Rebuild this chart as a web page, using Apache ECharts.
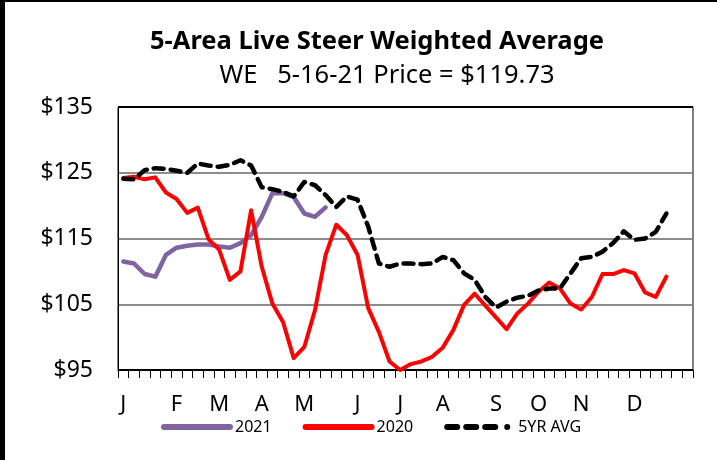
<!DOCTYPE html>
<html>
<head>
<meta charset="utf-8">
<script src="https://cdn.jsdelivr.net/npm/echarts@6/dist/echarts.min.js"></script>
<style>
html,body{margin:0;padding:0;background:#fff;}
#c{width:717px;height:460px;}
</style>
</head>
<body>
<div id="c"></div>
<script>
// Week categories (54 weekly slots), month tick labels placed at these week indices
const monthLabels = ['J','F','M','A','M','J','J','A','S','O','N','D'];
const monthWeekIndex = [0,5,9,13,17,22,26,30,35,39,43,48];
const weekCount = 54;

const yTicks = [95,105,115,125,135];

const s2021 = [111.5,111.2,109.6,109.2,112.5,113.6,113.9,114.1,114.1,113.8,
               113.6,114.3,115.5,118.3,121.9,121.9,121.3,118.8,118.3,119.73];

const s2020 = [124.2,124.4,124.0,124.3,122.0,121.0,118.9,119.7,114.9,113.3,
               108.7,110.0,119.3,110.7,105.1,102.3,96.8,98.5,104.1,112.5,
               117.1,115.5,112.5,104.4,100.8,96.3,95.0,95.9,96.3,97.0,
               98.4,101.1,104.9,106.6,104.8,103.0,101.2,103.6,105.1,106.9,
               108.3,107.4,105.1,104.2,106.1,109.6,109.6,110.2,109.7,106.8,
               106.1,109.2];

const s5yr = [124.1,124.0,125.4,125.7,125.6,125.3,125.0,126.4,126.1,125.9,
              126.2,126.9,126.1,122.8,122.5,122.1,121.4,123.6,123.1,121.6,
              119.8,121.4,120.9,116.8,111.2,110.7,111.2,111.2,111.1,111.2,
              112.2,111.7,109.7,108.7,106.1,104.5,105.4,106.0,106.3,107.1,
              107.4,107.4,109.7,112.0,112.2,113.0,114.3,116.1,114.8,115.0,
              116.0,118.8];

const categories = [];
for (let i = 0; i < weekCount; i++) {
  const k = monthWeekIndex.indexOf(i);
  categories.push(k >= 0 ? monthLabels[k] : '');
}

const FONT = 'Noto Sans';
const solidIcon = 'path://M3,0h66a3,3 0 0 1 0,6h-66a3,3 0 0 1 0,-6z';
const dashIcon = 'path://M3,0h10a3,3 0 0 1 0,6h-10a3,3 0 0 1 0,-6z M22,0h10a3,3 0 0 1 0,6h-10a3,3 0 0 1 0,-6z M41,0h10a3,3 0 0 1 0,6h-10a3,3 0 0 1 0,-6z M63,0a3,3 0 0 1 0,6a3,3 0 0 1 0,-6z M72,0v6z';

const chart = echarts.init(document.getElementById('c'), null, {renderer:'canvas'});
chart.setOption({
  animation: false,
  backgroundColor: '#fff',
  textStyle: {fontFamily: FONT, color: '#000'},
  graphic: [
    {type:'rect', shape:{x:0,y:0,width:5,height:460}, style:{fill:'#000'}, silent:true},
    {type:'rect', shape:{x:0,y:0,width:717,height:2}, style:{fill:'#000'}, silent:true},
    {type:'text', x:377, y:42, silent:true,
     style:{text:'5-Area Live Steer Weighted Average', fontFamily:FONT, fontSize:25.5, fontWeight:'bold',
            fill:'#000', align:'center', verticalAlign:'middle'}},
    {type:'text', x:387, y:76, silent:true,
     style:{text:'WE   5-16-21 Price = $119.73', fontFamily:FONT, fontSize:25.5,
            fill:'#000', align:'center', verticalAlign:'middle'}}
  ],
  legend: {
    left: 156,
    top: 414,
    itemWidth: 72,
    itemHeight: 6,
    itemGap: 31,
    symbolKeepAspect: false,
    textStyle: {fontFamily: FONT, fontSize: 16, color: '#000', padding:[0,0,0,-3]},
    data: [
      {name:'2021', icon: solidIcon},
      {name:'2020', icon: solidIcon},
      {name:'5YR AVG', icon: dashIcon}
    ]
  },
  grid: {
    left: 118, right: 24, top: 107, bottom: 90,
    show: true, borderColor: '#000', borderWidth: 1, containLabel: false
  },
  xAxis: {
    type: 'category',
    data: categories,
    boundaryGap: true,
    axisLine: {show: true, lineStyle: {color: '#000', width: 1}},
    axisTick: {show: true, interval: 0, length: 8, lineStyle: {color: '#000', width: 1}},
    axisLabel: {interval: 0, fontSize: 22, color: '#000', fontFamily: FONT, margin: 24},
    splitLine: {show: false}
  },
  yAxis: {
    type: 'value',
    min: yTicks[0], max: yTicks[yTicks.length-1], interval: 10,
    axisLine: {show: true, lineStyle: {color: '#000', width: 1}},
    axisTick: {show: false},
    axisLabel: {fontSize: 23, color: '#000', fontFamily: FONT, margin: 25,
                formatter: v => '$' + v},
    splitLine: {show: true, lineStyle: {color: ['#000','#8c8c8c','#8c8c8c','#8c8c8c','#000'], width: 2}}
  },
  series: [
    {name:'2021', type:'line', data:s2021, symbol:'none', z:3,
     lineStyle:{color:'#8064A2', width:4.5, cap:'round', join:'round'}, itemStyle:{color:'#8064A2'}},
    {name:'2020', type:'line', data:s2020, symbol:'none', z:4,
     lineStyle:{color:'#FF0000', width:4, cap:'round', join:'round'}, itemStyle:{color:'#FF0000'}},
    {name:'5YR AVG', type:'line', data:s5yr, symbol:'none', z:5,
     lineStyle:{color:'#000', width:4.5, type:[10,7], cap:'round', join:'round'}, itemStyle:{color:'#000'}}
  ]
});
</script>
</body>
</html>
